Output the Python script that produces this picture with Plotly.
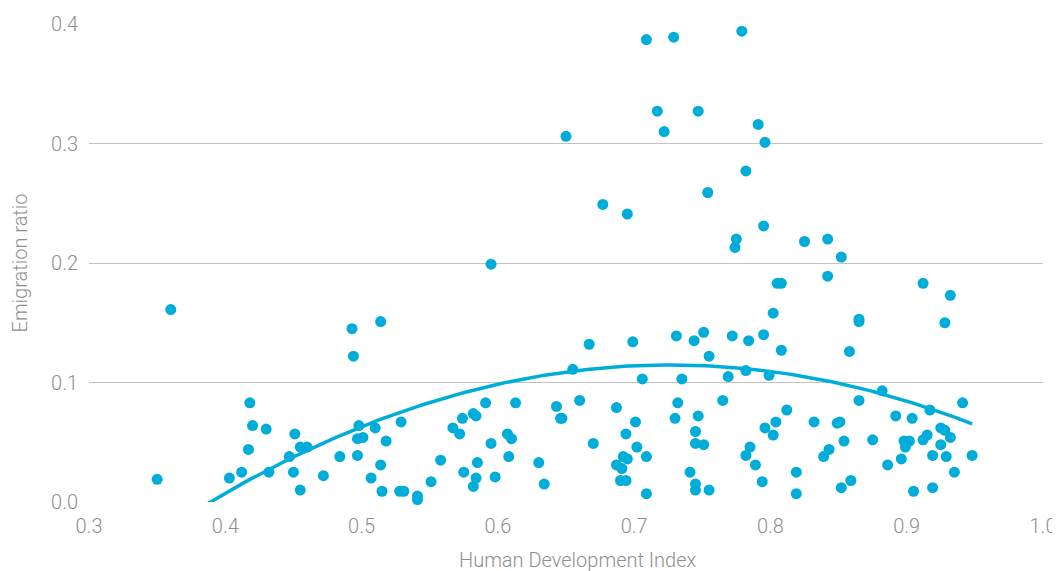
import numpy as np
import plotly.graph_objs as go

hdi = [
    0.350, 0.360, 0.403, 0.412, 0.417, 0.418, 0.420, 0.430, 0.432, 0.447,
    0.450, 0.451, 0.455, 0.455, 0.460, 0.472, 0.484, 0.493, 0.494, 0.497,
    0.497, 0.498, 0.501, 0.507, 0.510, 0.514, 0.514, 0.515, 0.518, 0.528,
    0.531, 0.529, 0.541, 0.541, 0.551, 0.558, 0.567, 0.572, 0.574, 0.575,
    0.582, 0.584, 0.585, 0.584, 0.582, 0.591, 0.595, 0.595, 0.598, 0.607,
    0.610, 0.608, 0.613, 0.630, 0.634, 0.643, 0.646, 0.647, 0.650, 0.655,
    0.660, 0.667, 0.670, 0.677, 0.687, 0.687, 0.691, 0.690, 0.694, 0.692,
    0.695, 0.694, 0.695, 0.699, 0.701, 0.702, 0.706, 0.709, 0.709, 0.709,
    0.717, 0.722, 0.729, 0.730, 0.731, 0.732, 0.735, 0.741, 0.744, 0.745,
    0.745, 0.745, 0.745, 0.747, 0.747, 0.751, 0.751, 0.754, 0.755, 0.755,
    0.765, 0.769, 0.772, 0.774, 0.775, 0.779, 0.782, 0.782, 0.782, 0.784,
    0.785, 0.789, 0.791, 0.794, 0.795, 0.795, 0.796, 0.796, 0.799, 0.802,
    0.802, 0.804, 0.805, 0.808, 0.808, 0.812, 0.819, 0.819, 0.825, 0.832,
    0.839, 0.842, 0.842, 0.843, 0.849, 0.851, 0.852, 0.852, 0.854, 0.858,
    0.859, 0.865, 0.865, 0.865, 0.875, 0.882, 0.886, 0.892, 0.896, 0.898,
    0.899, 0.902, 0.904, 0.905, 0.912, 0.912, 0.915, 0.917, 0.919, 0.919,
    0.925, 0.925, 0.928, 0.928, 0.929, 0.932, 0.932, 0.935, 0.941, 0.948,
]
emigration = [
    0.019, 0.161, 0.020, 0.025, 0.044, 0.083, 0.064, 0.061, 0.025, 0.038,
    0.025, 0.057, 0.046, 0.010, 0.046, 0.022, 0.038, 0.145, 0.122, 0.053,
    0.039, 0.064, 0.054, 0.020, 0.062, 0.151, 0.031, 0.009, 0.051, 0.009,
    0.009, 0.067, 0.005, 0.002, 0.017, 0.035, 0.062, 0.057, 0.070, 0.025,
    0.074, 0.072, 0.033, 0.020, 0.013, 0.083, 0.049, 0.199, 0.021, 0.057,
    0.053, 0.038, 0.083, 0.033, 0.015, 0.080, 0.070, 0.070, 0.306, 0.111,
    0.085, 0.132, 0.049, 0.249, 0.079, 0.031, 0.028, 0.018, 0.018, 0.038,
    0.036, 0.057, 0.241, 0.134, 0.067, 0.046, 0.103, 0.038, 0.007, 0.387,
    0.327, 0.310, 0.389, 0.070, 0.139, 0.083, 0.103, 0.025, 0.135, 0.059,
    0.049, 0.015, 0.010, 0.072, 0.327, 0.142, 0.048, 0.259, 0.122, 0.010,
    0.085, 0.105, 0.139, 0.213, 0.220, 0.394, 0.277, 0.110, 0.039, 0.135,
    0.046, 0.031, 0.316, 0.017, 0.231, 0.140, 0.301, 0.062, 0.106, 0.158,
    0.056, 0.067, 0.183, 0.183, 0.127, 0.077, 0.025, 0.007, 0.218, 0.067,
    0.038, 0.220, 0.189, 0.044, 0.066, 0.067, 0.205, 0.012, 0.051, 0.126,
    0.018, 0.153, 0.151, 0.085, 0.052, 0.093, 0.031, 0.072, 0.036, 0.051,
    0.046, 0.051, 0.070, 0.009, 0.183, 0.052, 0.056, 0.077, 0.039, 0.012,
    0.062, 0.048, 0.150, 0.060, 0.038, 0.173, 0.054, 0.025, 0.083, 0.039,
]

# polynomial (order 2) trendline shown in the chart, highest power first
trend_coef = [-1.006, 1.462, -0.4165]

blue = "#00ADD8"
grey = "#8f8f8f"

xs = np.linspace(min(hdi), max(hdi), 200)
ys = np.polyval(trend_coef, xs)

fig = go.Figure()
fig.add_trace(go.Scatter(
    x=hdi, y=emigration, mode="markers",
    marker=dict(color=blue, size=11),
    cliponaxis=False, showlegend=False,
))
fig.add_trace(go.Scatter(
    x=xs, y=ys, mode="lines",
    line=dict(color=blue, width=3.5),
    showlegend=False, hoverinfo="skip",
))

# page body adds an 8px offset, margins account for it
fig.update_layout(
    width=1060, height=571,
    margin=dict(l=81, r=25, t=16, b=77),
    plot_bgcolor="white", paper_bgcolor="white",
    font=dict(family="Roboto Light, Roboto", size=20, color=grey),
    xaxis=dict(
        range=[0.3, 1.0], dtick=0.1, tickformat=".1f",
        showgrid=False, zeroline=False, showline=False, automargin=False,
        ticks="outside", ticklen=6, tickcolor="rgba(0,0,0,0)",
    ),
    yaxis=dict(
        range=[0, 0.4], dtick=0.1, tickformat=".1f",
        showgrid=True, gridcolor="#c2c2c2", gridwidth=1.3,
        zeroline=False, showline=False, automargin=False,
        ticks="outside", ticklen=6, tickcolor="rgba(0,0,0,0)",
        title=dict(text="Emigration ratio", standoff=20,
                   font=dict(size=20, color=grey)),
    ),
    annotations=[dict(
        text="Human Development Index", xref="paper", yref="paper",
        x=0.5126, y=-0.122, xanchor="center", yanchor="middle",
        showarrow=False, font=dict(size=20, color=grey),
    )],
)

fig.write_html("out.html")
